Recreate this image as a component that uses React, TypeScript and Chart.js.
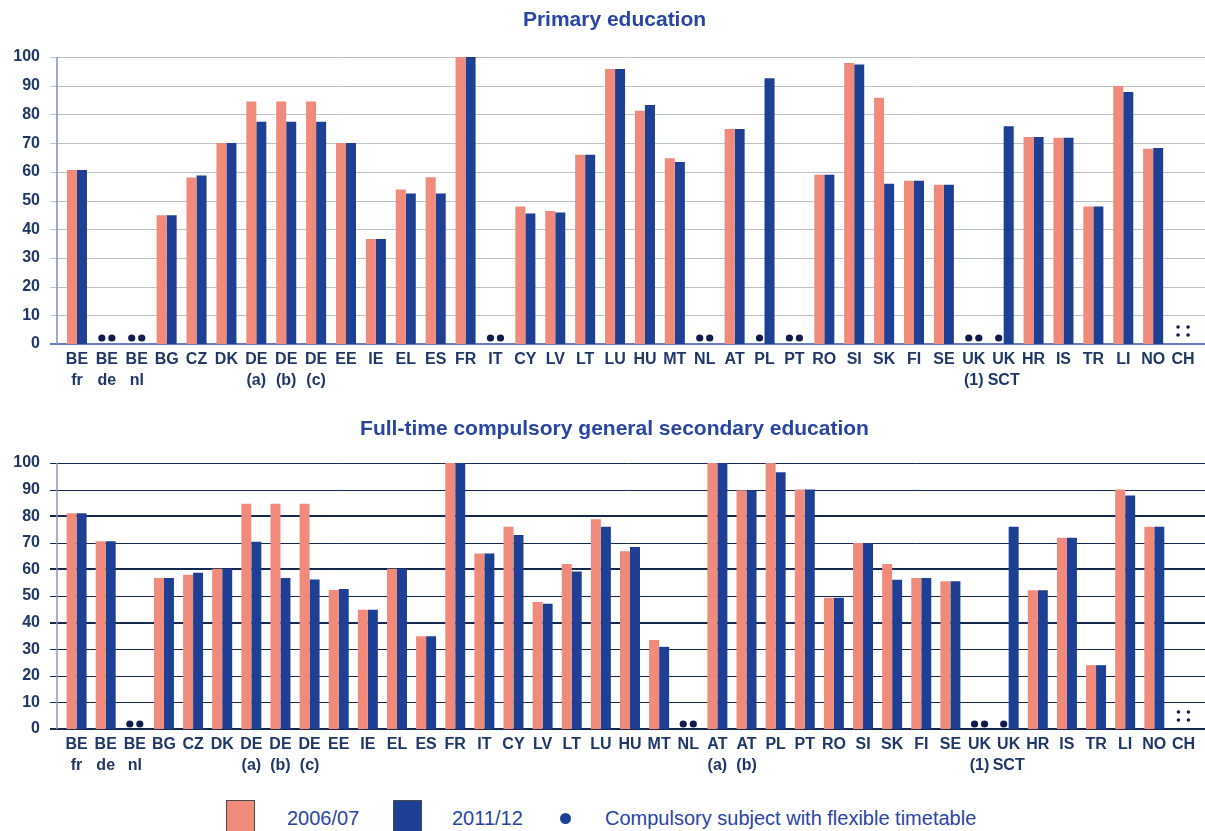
import React, { useEffect, useRef } from "react";
import { Chart, registerables } from "chart.js";
Chart.register(...registerables);

// ---------- Data ----------
const primaryCodes = ["BE fr","BE de","BE nl","BG","CZ","DK","DE (a)","DE (b)","DE (c)","EE","IE","EL","ES","FR","IT","CY","LV","LT","LU","HU","MT","NL","AT","PL","PT","RO","SI","SK","FI","SE","UK (1)","UK SCT","HR","IS","TR","LI","NO","CH"];
const primary0607 = [60.6,null,null,44.9,58.0,70,84.5,84.5,84.5,70,36.6,53.8,58.1,100,null,47.9,46.3,65.9,95.8,81.3,64.7,null,74.9,null,null,59.0,97.9,85.8,56.9,55.5,null,null,72.1,71.9,47.9,89.9,68.0,null];
const primary1112 = [60.6,null,null,44.9,58.7,70,77.4,77.4,77.4,70,36.6,52.4,52.4,100,null,45.5,45.8,65.9,95.8,83.3,63.4,null,74.9,92.6,null,59.0,97.4,55.8,56.9,55.5,null,75.9,72.1,71.9,47.9,87.8,68.3,null];
const primaryFlex0607 = ["BE de","BE nl","IT","NL","PL","PT","UK (1)","UK SCT"];
const primaryFlex1112 = ["BE de","BE nl","IT","NL","PT","UK (1)"];
const primaryNA = ["CH"];

const secCodes = ["BE fr","BE de","BE nl","BG","CZ","DK","DE (a)","DE (b)","DE (c)","EE","IE","EL","ES","FR","IT","CY","LV","LT","LU","HU","MT","NL","AT (a)","AT (b)","PL","PT","RO","SI","SK","FI","SE","UK (1)","UK SCT","HR","IS","TR","LI","NO","CH"];
const sec0607 = [81.1,70.6,null,56.8,58.0,60.2,84.7,84.7,84.7,52.3,44.8,60.2,34.9,100,66.0,76.0,47.7,62.0,78.9,66.8,33.5,null,100,89.8,100,90,49.3,69.9,62.0,56.8,55.5,null,null,52.2,71.9,24.0,90.0,76.0,null];
const sec1112 = [81.1,70.6,null,56.8,58.7,60.2,70.4,56.8,56.2,52.6,44.8,60.2,34.9,100,66.0,72.9,47.1,59.2,76.0,68.4,30.9,null,100,89.8,96.5,90,49.3,69.9,56.1,56.8,55.5,null,76.0,52.2,71.9,24.0,87.8,76.0,null];
const secFlex0607 = ["BE nl","NL","UK (1)","UK SCT"];
const secFlex1112 = ["BE nl","NL","UK (1)"];
const secNA = ["CH"];

const yTicks = [0,10,20,30,40,50,60,70,80,90,100];
const legendLabels = ["2006/07","2011/12","Compulsory subject with flexible timetable"];
const titles = ["Primary education", "Full-time compulsory general secondary education"];

// ---------- Style ----------
const SALMON = "#f08b7b";
const BLUE = "#1d3f94";
const NAVY = "#1f3768";
const TITLE = "#2945a4";
const DOT = "#0f1c4d";
const X_FONT = "'Liberation Sans Narrow', 'Liberation Sans', Arial, sans-serif";
const Y_FONT = "'Liberation Sans', Arial, sans-serif";

function makeTitlePlugin(text: string, centerY: number) {
  return {
    id: "posTitle",
    afterDraw(chart: any) {
      const { ctx } = chart;
      ctx.save();
      ctx.font = `bold 21px ${Y_FONT}`;
      ctx.fillStyle = TITLE;
      ctx.textAlign = "center";
      ctx.textBaseline = "middle";
      ctx.fillText(text, chart.width / 2 + 12, centerY);
      ctx.restore();
    },
  };
}

function makeGridPlugin(colorFor: (v: number) => string, widthFor: (v: number) => number, axisColor: string) {
  return {
    id: "fullGrid",
    beforeDatasetsDraw(chart: any) {
      const { ctx, chartArea, scales } = chart;
      const y = scales.y;
      ctx.save();
      y.ticks.forEach((t: any) => {
        const py = Math.round(y.getPixelForValue(t.value));
        const w = widthFor(t.value);
        const off = w % 2 === 1 ? 0.5 : 0;
        ctx.lineWidth = w;
        ctx.strokeStyle = colorFor(t.value);
        ctx.beginPath();
        ctx.moveTo(chartArea.left - 12, py + off);
        ctx.lineTo(chart.width, py + off);
        ctx.stroke();
      });
      ctx.strokeStyle = axisColor;
      ctx.lineWidth = 1.5;
      ctx.beginPath();
      ctx.moveTo(chartArea.left - 5, y.getPixelForValue(100));
      ctx.lineTo(chartArea.left - 5, y.getPixelForValue(0));
      ctx.stroke();
      ctx.restore();
    },
  };
}

function makeMarksPlugin(codes: string[], flexA: string[], flexB: string[], na: string[], catPct: number, dotLift: number) {
  return {
    id: "marks",
    afterDatasetsDraw(chart: any) {
      const { ctx, scales } = chart;
      const x = scales.x;
      const y = scales.y;
      const pitch = x.getPixelForValue(1) - x.getPixelForValue(0);
      const off = (pitch * catPct) / 4;
      const base = y.getPixelForValue(0);
      ctx.save();
      ctx.fillStyle = DOT;
      codes.forEach((c, i) => {
        const cx = x.getPixelForValue(i);
        const pos: number[] = [];
        if (flexA.includes(c)) pos.push(cx - off);
        if (flexB.includes(c)) pos.push(cx + off);
        pos.forEach((px) => {
          ctx.beginPath();
          ctx.arc(px, base - dotLift, 3.6, 0, Math.PI * 2);
          ctx.fill();
        });
        if (na.includes(c)) {
          [cx - off, cx + off].forEach((px) => {
            [9, 17].forEach((dy) => {
              ctx.beginPath();
              ctx.arc(px, base - dy, 1.8, 0, Math.PI * 2);
              ctx.fill();
            });
          });
        }
      });
      ctx.restore();
    },
  };
}

function buildConfig(opts: {
  codes: string[];
  a: (number | null)[];
  b: (number | null)[];
  top: number;
  xHeight: number;
  catPct: number;
  plugins: any[];
}) {
  return {
    type: "bar" as const,
    data: {
      labels: opts.codes.map((c) => c.split(" ")),
      datasets: [
        { label: legendLabels[0], data: opts.a, backgroundColor: SALMON, borderWidth: 0 },
        { label: legendLabels[1], data: opts.b, backgroundColor: BLUE, borderWidth: 0 },
      ],
    },
    options: {
      responsive: false,
      animation: false as const,
      devicePixelRatio: 1,
      layout: { padding: { left: 0, right: 7, top: opts.top, bottom: 0 } },
      datasets: { bar: { barPercentage: 1, categoryPercentage: opts.catPct } },
      plugins: {
        legend: { display: false },
        tooltip: { enabled: false },
        title: { display: false },
      },
      scales: {
        x: {
          grid: { display: false, drawTicks: false },
          border: { display: false },
          ticks: {
            color: NAVY,
            autoSkip: false,
            maxRotation: 0,
            padding: 5,
            font: { family: X_FONT, size: 16, weight: "bold" as const, lineHeight: 1.3 },
          },
          afterFit: (s: any) => { s.height = opts.xHeight; },
        },
        y: {
          min: 0,
          max: 100,
          afterBuildTicks: (s: any) => { s.ticks = yTicks.map((v) => ({ value: v })); },
          grid: { display: false, drawTicks: false },
          border: { display: false },
          ticks: {
            color: NAVY,
            padding: 22,
            font: { family: Y_FONT, size: 16, weight: "bold" as const },
          },
          afterFit: (s: any) => { s.width = 62; },
        },
      },
    },
    plugins: opts.plugins,
  };
}

function ChartCanvas({ config, width, height }: { config: any; width: number; height: number }) {
  const ref = useRef<HTMLCanvasElement | null>(null);
  useEffect(() => {
    if (!ref.current) return;
    const chart = new Chart(ref.current, config);
    return () => chart.destroy();
  }, [config]);
  return <canvas ref={ref} width={width} height={height} style={{ display: "block", width, height }} />;
}

const topConfig = buildConfig({
  codes: primaryCodes,
  a: primary0607,
  b: primary1112,
  top: 57,
  xHeight: 56,
  catPct: 0.67,
  plugins: [
    makeGridPlugin((v) => (v === 0 ? "#6a80bd" : "#bcc1ca"), (v) => (v === 0 ? 2 : 1), "#7d8fc0"),
    makeMarksPlugin(primaryCodes, primaryFlex0607, primaryFlex1112, primaryNA, 0.67, 6),
    makeTitlePlugin(titles[0], 20),
  ],
});

const bottomConfig = buildConfig({
  codes: secCodes,
  a: sec0607,
  b: sec1112,
  top: 63,
  xHeight: 61,
  catPct: 0.686,
  plugins: [
    makeGridPlugin(() => "#17294f", (v) => (v === 0 || v === 40 || v === 60 || v === 80 ? 2 : 1), "#8797b3"),
    makeMarksPlugin(secCodes, secFlex0607, secFlex1112, secNA, 0.686, 5),
    makeTitlePlugin(titles[1], 29),
  ],
});

export default function App() {
  const legendText: React.CSSProperties = {
    position: "absolute",
    top: 806,
    fontFamily: Y_FONT,
    fontSize: 20,
    color: TITLE,
    lineHeight: "24px",
    whiteSpace: "nowrap",
  };
  const box: React.CSSProperties = {
    position: "absolute",
    top: 800,
    width: 29,
    height: 40,
    border: "1px solid #4a4a4a",
    boxSizing: "border-box",
  };
  return (
    <div style={{ position: "fixed", left: 0, top: 0, width: 1205, height: 831, background: "#fff", overflow: "hidden" }}>
      <div style={{ position: "absolute", left: 0, top: 0 }}>
        <ChartCanvas config={topConfig} width={1205} height={400} />
      </div>
      <div style={{ position: "absolute", left: 0, top: 400 }}>
        <ChartCanvas config={bottomConfig} width={1205} height={390} />
      </div>
      <div style={{ ...box, left: 226, background: SALMON }} />
      <div style={{ ...legendText, left: 287 }}>{legendLabels[0]}</div>
      <div style={{ ...box, left: 393, background: BLUE }} />
      <div style={{ ...legendText, left: 452 }}>{legendLabels[1]}</div>
      <div style={{ position: "absolute", left: 560, top: 813, width: 11, height: 11, borderRadius: "50%", background: BLUE }} />
      <div style={{ ...legendText, left: 605 }}>{legendLabels[2]}</div>
    </div>
  );
}
